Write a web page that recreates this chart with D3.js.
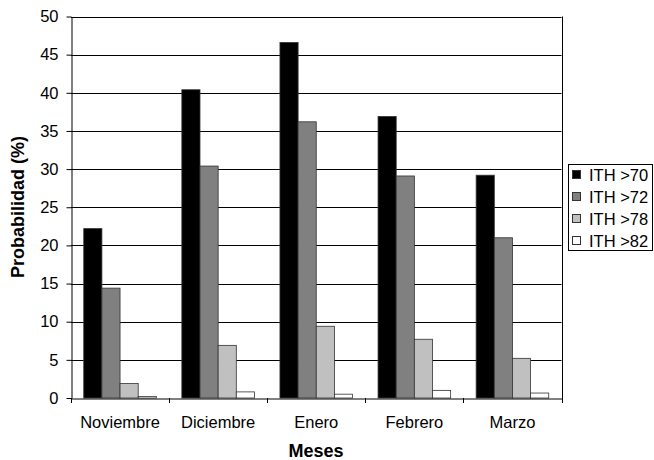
<!DOCTYPE html>
<html>
<head>
<meta charset="utf-8">
<script src="https://cdn.jsdelivr.net/npm/d3@7/dist/d3.min.js"></script>
<style>
  html, body { margin: 0; padding: 0; background: #fff; }
  svg { display: block; font-family: "Liberation Sans", Arial, sans-serif; }
</style>
</head>
<body>
<svg id="chart" width="654" height="460"></svg>
<script>
// Monthly probability of exceeding each ITH threshold
const months = ["Noviembre", "Diciembre", "Enero", "Febrero", "Marzo"];
const seriesNames = ["ITH >70", "ITH >72", "ITH >78", "ITH >82"];
const ith70 = [22.2, 40.4, 46.6, 36.9, 29.2];
const ith72 = [14.4, 30.4, 36.2, 29.1, 21.0];
const ith78 = [1.9, 6.9, 9.4, 7.7, 5.2];
const ith82 = [0.2, 0.8, 0.5, 1.0, 0.65];
const yTicks = [0, 5, 10, 15, 20, 25, 30, 35, 40, 45, 50];
const colors = ["#000000", "#808080", "#c0c0c0", "#ffffff"];

const seriesValues = [ith70, ith72, ith78, ith82];
const FONT = "Liberation Sans, Arial, sans-serif";
const labelSize = 16.5;

const svg = d3.select("#chart");
const plot = { left: 71, right: 561.5, top: 16.5, bottom: 398 };

const x0 = d3.scaleBand().domain(months).range([plot.left, plot.right]).paddingInner(0.26).paddingOuter(0.13);
const x1 = d3.scaleBand().domain(seriesNames).range([0, x0.bandwidth()]);
const y = d3.scaleLinear().domain([0, 50]).range([plot.bottom, plot.top]);
const px = v => Math.round(v) + 0.5;

// Horizontal gridlines
svg.append("g").selectAll("line").data(yTicks.filter(t => t > 0)).join("line")
  .attr("x1", plot.left).attr("x2", plot.right)
  .attr("y1", d => px(y(d))).attr("y2", d => px(y(d)))
  .attr("stroke", "#000").attr("stroke-width", 1);

// Right edge of the plot area
svg.append("line")
  .attr("x1", px(plot.right)).attr("x2", px(plot.right))
  .attr("y1", plot.top).attr("y2", plot.bottom)
  .attr("stroke", "#000");

// Bars
const groups = svg.append("g").selectAll("g").data(months).join("g")
  .attr("transform", d => `translate(${x0(d)},0)`);
groups.selectAll("rect")
  .data((m, i) => seriesNames.map((s, k) => ({ s, k, v: seriesValues[k][i] })))
  .join("rect")
  .attr("x", d => x1(d.s))
  .attr("y", d => y(d.v))
  .attr("width", x1.bandwidth())
  .attr("height", d => plot.bottom - y(d.v))
  .attr("fill", d => colors[d.k])
  .attr("stroke", "#333")
  .attr("stroke-width", 0.8);

// Y axis
const yAxis = d3.axisLeft(y).tickValues(yTicks).tickSize(5).tickPadding(8).tickSizeOuter(0);
const gy = svg.append("g").attr("transform", `translate(${px(plot.left)},0)`).call(yAxis);
gy.attr("font-size", null).attr("font-family", null);
gy.selectAll("text").attr("font-size", labelSize).attr("fill", "#000").style("font-family", FONT);
gy.selectAll("line").attr("stroke", "#000");
gy.select(".domain").attr("stroke", "#000");

// X axis
const xAxis = d3.axisBottom(x0).tickSize(0).tickPadding(18).tickSizeOuter(0);
const gx = svg.append("g").attr("transform", `translate(0,${px(plot.bottom)})`).call(xAxis);
gx.attr("font-size", null).attr("font-family", null);
gx.selectAll("text").attr("font-size", labelSize).attr("fill", "#000").style("font-family", FONT);
gx.select(".domain").attr("stroke", "#000");

// Category separators below the axis
const sepX = d3.range(months.length + 1).map(i => plot.left + i * x0.step());
svg.append("g").selectAll("line").data(sepX).join("line")
  .attr("x1", d => px(d)).attr("x2", d => px(d))
  .attr("y1", plot.bottom).attr("y2", plot.bottom + 5)
  .attr("stroke", "#000");

// Axis titles
svg.append("text")
  .attr("x", 316).attr("y", 457)
  .attr("text-anchor", "middle").attr("font-size", 18).attr("font-weight", "bold")
  .style("font-family", FONT)
  .text("Meses");
svg.append("text")
  .attr("transform", `translate(24,207) rotate(-90)`)
  .attr("text-anchor", "middle").attr("font-size", 18).attr("font-weight", "bold")
  .style("font-family", FONT)
  .text("Probabilidad (%)");

// Legend
const legend = svg.append("g");
legend.append("rect")
  .attr("x", 568.5).attr("y", 164.5).attr("width", 84).attr("height", 86)
  .attr("fill", "#fff").attr("stroke", "#000");
const items = legend.selectAll("g").data(seriesNames).join("g")
  .attr("transform", (d, i) => `translate(572,${175 + i * 22})`);
items.append("rect")
  .attr("x", 0.5).attr("y", -4.5).attr("width", 8).attr("height", 8)
  .attr("fill", (d, i) => colors[i]).attr("stroke", "#333");
items.append("text")
  .attr("x", 17).attr("y", 0).attr("dy", "0.36em")
  .attr("font-size", labelSize)
  .style("font-family", FONT)
  .text(d => d);
</script>
</body>
</html>
